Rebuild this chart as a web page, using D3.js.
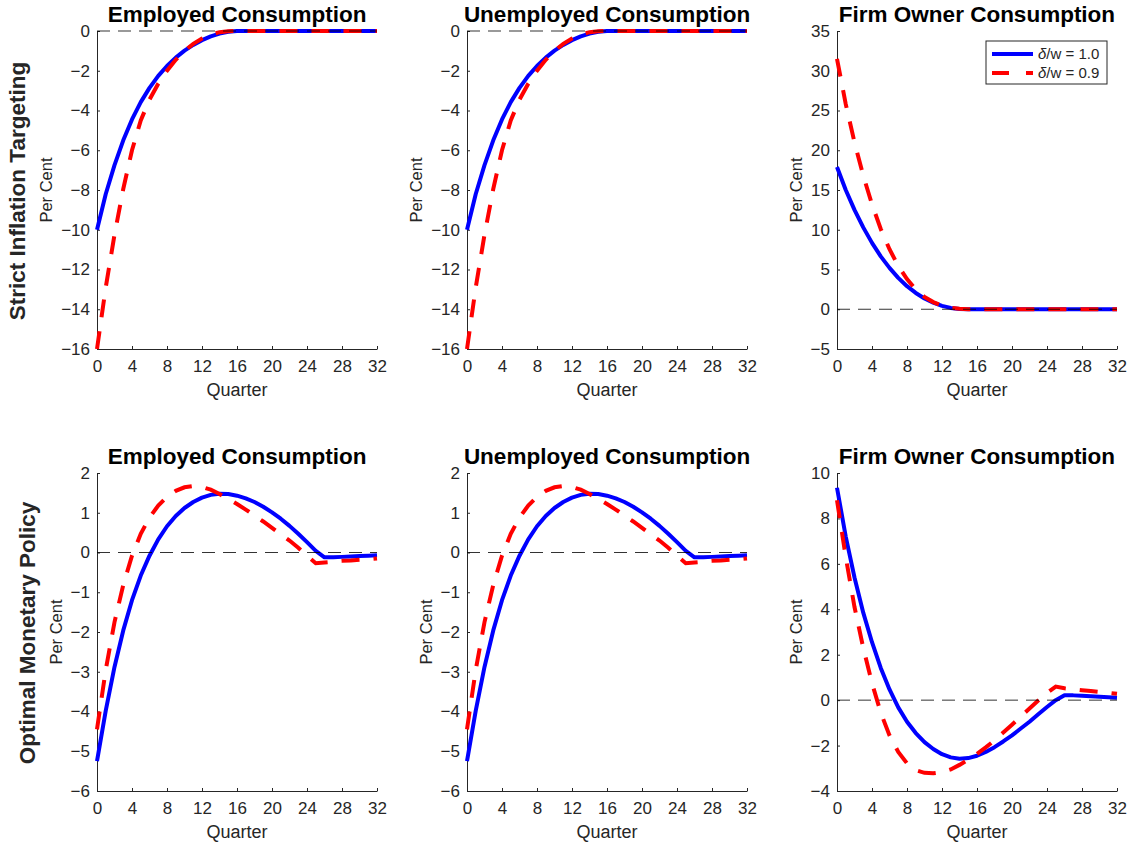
<!DOCTYPE html>
<html>
<head>
<meta charset="utf-8">
<script src="https://cdn.jsdelivr.net/npm/d3@7"></script>
<style>
  body { margin: 0; background: #fff; }
  svg { display: block; font-family: "Liberation Sans", Arial, Helvetica, sans-serif; }
</style>
</head>
<body>
<script>
const width = 1129;
const height = 845;

// quarters on the x axis
const quarters = [0,1,2,3,4,5,6,7,8,9,10,11,12,13,14,15,16,17,18,19,20,21,22,23,24,25,26,27,28,29,30,31,32];
const xTicks = [0,4,8,12,16,20,24,28,32];

// strict inflation targeting: employed / unemployed consumption
const strictConsBlue = [-10,-8.2,-6.75,-5.5,-4.45,-3.58,-2.86,-2.26,-1.76,-1.34,-0.99,-0.7,-0.46,-0.27,-0.13,-0.04,0,0,0,0,0,0,0,0,0,0,0,0,0,0,0,0,0];
const strictConsRed = [-16,-12.9,-10.25,-7.95,-6.0,-4.5,-3.45,-2.65,-2.0,-1.45,-1.0,-0.65,-0.38,-0.18,-0.06,-0.01,0,0,0,0,0,0,0,0,0,0,0,0,0,0,0,0,0];
// strict inflation targeting: firm owner consumption
const strictOwnerBlue = [17.9,15,12.5,10.3,8.35,6.65,5.2,3.95,2.9,2.05,1.35,0.82,0.43,0.17,0.04,0,0,0,0,0,0,0,0,0,0,0,0,0,0,0,0,0,0];
const strictOwnerRed = [31.5,25.8,21,16.8,13.2,10.1,7.55,5.45,3.8,2.5,1.55,0.9,0.45,0.18,0.05,0,0,0,0,0,0,0,0,0,0,0,0,0,0,0,0,0,0];

// optimal monetary policy: employed / unemployed consumption
const optConsBlue = [-5.25,-3.98,-2.88,-1.96,-1.2,-0.58,-0.08,0.33,0.66,0.92,1.12,1.27,1.38,1.45,1.48,1.47,1.43,1.36,1.27,1.15,1.01,0.85,0.67,0.47,0.26,0.04,-0.12,-0.12,-0.11,-0.1,-0.09,-0.08,-0.07];
const optConsRed = [-4.45,-2.95,-1.75,-0.82,-0.08,0.47,0.88,1.18,1.4,1.55,1.64,1.67,1.65,1.58,1.47,1.35,1.22,1.08,0.93,0.78,0.62,0.46,0.3,0.12,-0.08,-0.27,-0.25,-0.23,-0.21,-0.2,-0.18,-0.17,-0.15];
// optimal monetary policy: firm owner consumption
const optOwnerBlue = [9.35,7.2,5.4,3.85,2.55,1.42,0.47,-0.32,-0.95,-1.45,-1.85,-2.15,-2.38,-2.52,-2.58,-2.55,-2.45,-2.28,-2.07,-1.82,-1.55,-1.25,-0.95,-0.62,-0.3,0.0,0.22,0.21,0.19,0.17,0.15,0.13,0.11];
const optOwnerRed = [8.8,6.3,4.1,2.3,0.75,-0.55,-1.55,-2.28,-2.78,-3.08,-3.2,-3.22,-3.17,-3.05,-2.85,-2.62,-2.37,-2.08,-1.77,-1.43,-1.08,-0.72,-0.37,-0.02,0.32,0.6,0.52,0.48,0.44,0.4,0.36,0.32,0.28];

const yTicksStrictCons = [-16,-14,-12,-10,-8,-6,-4,-2,0];
const yTicksStrictOwner = [-5,0,5,10,15,20,25,30,35];
const yTicksOptCons = [-6,-5,-4,-3,-2,-1,0,1,2];
const yTicksOptOwner = [-4,-2,0,2,4,6,8,10];

const rowLabels = ["Strict Inflation Targeting", "Optimal Monetary Policy"];
const legendLabels = ["1.0", "0.9"];

const colLeft = [97, 467, 837];
const rowTop = [31, 473];
const pw = 280;
const ph = 318;
const axisColor = "#262626";

const panels = [
  { row: 0, col: 0, title: "Employed Consumption", ticks: yTicksStrictCons, blue: strictConsBlue, red: strictConsRed },
  { row: 0, col: 1, title: "Unemployed Consumption", ticks: yTicksStrictCons, blue: strictConsBlue, red: strictConsRed },
  { row: 0, col: 2, title: "Firm Owner Consumption", ticks: yTicksStrictOwner, blue: strictOwnerBlue, red: strictOwnerRed, legend: true },
  { row: 1, col: 0, title: "Employed Consumption", ticks: yTicksOptCons, blue: optConsBlue, red: optConsRed },
  { row: 1, col: 1, title: "Unemployed Consumption", ticks: yTicksOptCons, blue: optConsBlue, red: optConsRed },
  { row: 1, col: 2, title: "Firm Owner Consumption", ticks: yTicksOptOwner, blue: optOwnerBlue, red: optOwnerRed }
];

const svg = d3.select("body").append("svg")
  .attr("width", width)
  .attr("height", height);

svg.append("rect").attr("width", width).attr("height", height).attr("fill", "#fff");

panels.forEach((p) => {
  const left = colLeft[p.col];
  const top = rowTop[p.row];
  const g = svg.append("g").attr("transform", `translate(${left},${top})`);

  const x = d3.scaleLinear().domain([0, 32]).range([0, pw]);
  const y = d3.scaleLinear().domain(d3.extent(p.ticks)).range([ph, 0]);

  // axes (matlab look: left + bottom only, ticks pointing in)
  const xAxis = g.append("g")
    .attr("transform", `translate(0,${ph})`)
    .call(d3.axisBottom(x).tickValues(xTicks).tickSize(-3).tickSizeOuter(0).tickPadding(11));
  const yAxis = g.append("g")
    .call(d3.axisLeft(y).tickValues(p.ticks).tickSize(-3).tickSizeOuter(0).tickPadding(7));

  [xAxis, yAxis].forEach((a) => {
    a.select(".domain").attr("stroke", axisColor);
    a.selectAll(".tick line").attr("stroke", axisColor);
    a.selectAll(".tick text")
      .attr("fill", axisColor)
      .style("font-size", "17px")
      .style("font-family", "'Liberation Sans', Arial, sans-serif");
  });

  const line = d3.line()
    .x((d, i) => x(quarters[i]))
    .y((d) => y(d));

  g.append("path")
    .datum(p.blue)
    .attr("d", line)
    .attr("fill", "none")
    .attr("stroke", "#0000ff")
    .attr("stroke-width", 4)
    .attr("stroke-linejoin", "round");

  g.append("path")
    .datum(p.red)
    .attr("d", line)
    .attr("fill", "none")
    .attr("stroke", "#ff0000")
    .attr("stroke-width", 4)
    .attr("stroke-dasharray", "18,14");

  // zero line
  g.append("line")
    .attr("x1", x(0)).attr("x2", x(32))
    .attr("y1", y(0)).attr("y2", y(0))
    .attr("stroke", "#000")
    .attr("stroke-opacity", 0.8)
    .attr("stroke-width", 1)
    .attr("stroke-dasharray", "13,8");

  g.append("text")
    .attr("x", pw / 2)
    .attr("y", -9)
    .attr("text-anchor", "middle")
    .attr("font-weight", "bold")
    .attr("font-size", 22.5)
    .attr("fill", "#000")
    .text(p.title);

  g.append("text")
    .attr("x", pw / 2)
    .attr("y", ph + 47)
    .attr("text-anchor", "middle")
    .attr("font-size", 18)
    .attr("fill", axisColor)
    .text("Quarter");

  // y label sits just left of the widest tick label
  const tickLeft = d3.min(yAxis.selectAll(".tick text").nodes(), (n) => n.getBBox().x);
  const ylx = tickLeft - 9;
  g.append("text")
    .attr("transform", `translate(${ylx},${ph / 2}) rotate(-90)`)
    .attr("text-anchor", "middle")
    .attr("font-size", 16.5)
    .attr("fill", axisColor)
    .text("Per Cent");

  if (p.col === 0) {
    g.append("text")
      .attr("transform", `translate(${ylx - 27},${ph / 2 + 1}) rotate(-90)`)
      .attr("text-anchor", "middle")
      .attr("font-weight", "bold")
      .attr("font-size", 22.5)
      .attr("fill", axisColor)
      .text(rowLabels[p.row]);
  }

  if (p.legend) {
    const lg = g.append("g").attr("transform", "translate(149,10)");
    lg.append("rect")
      .attr("width", 121).attr("height", 43)
      .attr("fill", "#fff")
      .attr("stroke", axisColor)
      .attr("stroke-width", 1);
    const styles = [
      { color: "#0000ff", dash: null },
      { color: "#ff0000", dash: "17,17" }
    ];
    legendLabels.forEach((lab, i) => {
      const ly = 13 + i * 19;
      lg.append("line")
        .attr("x1", 6).attr("x2", 47)
        .attr("y1", ly).attr("y2", ly)
        .attr("stroke", styles[i].color)
        .attr("stroke-width", 4)
        .attr("stroke-dasharray", styles[i].dash);
      const t = lg.append("text")
        .attr("x", 52).attr("y", ly + 5)
        .attr("font-size", 15)
        .attr("fill", axisColor);
      t.append("tspan").attr("font-style", "italic").text("δ");
      t.append("tspan").text("/w = " + lab);
    });
  }
});
</script>
</body>
</html>
